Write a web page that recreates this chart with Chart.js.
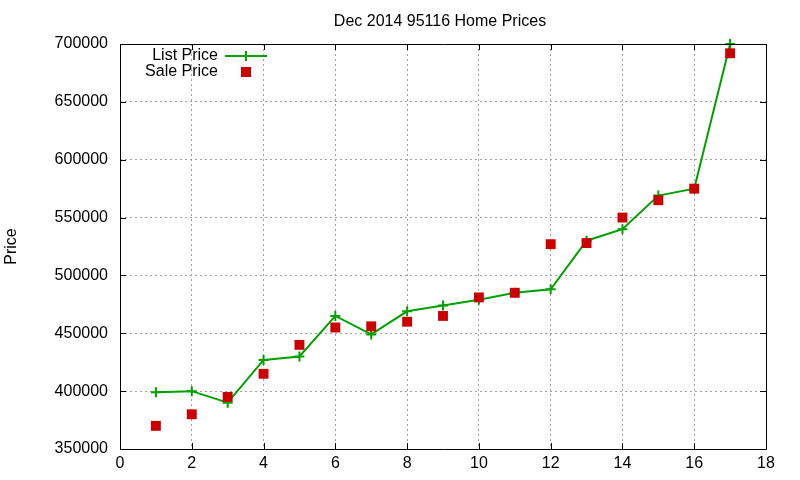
<!DOCTYPE html>
<html>
<head>
<meta charset="utf-8">
<script src="https://cdn.jsdelivr.net/npm/chart.js@4"></script>
<style>
html,body{margin:0;padding:0;background:#fff;}
#wrap{width:800px;height:480px;}
</style>
</head>
<body>
<div id="wrap"><canvas id="c" width="800" height="480"></canvas></div>
<script>
const titleText = 'Dec 2014 95116 Home Prices';
const yAxisTitle = 'Price';
const seriesNames = ['List Price', 'Sale Price'];
const months = [1,2,3,4,5,6,7,8,9,10,11,12,13,14,15,16,17];
const listPrice = [399000,400000,390000,427000,430000,465000,449000,469000,474000,479000,485000,488000,530000,540000,569000,575000,700000];
const salePrice = [370000,380000,395000,415000,440000,455000,456000,460000,465000,481000,485000,527000,528000,550000,565000,575000,692000];
const xRange = [0, 18, 2];
const yRange = [350000, 700000, 50000];

const FONT = '"Liberation Sans", Arial, Helvetica, sans-serif';
const GREEN = '#00a000';
const RED = '#cc0000';

const frame = {
  id: 'frame',
  afterDraw(chart) {
    const {ctx, chartArea: a, scales} = chart;
    ctx.save();
    ctx.strokeStyle = '#000';
    ctx.lineWidth = 1;
    ctx.beginPath();
    ctx.rect(Math.round(a.left)+0.5, Math.round(a.top)+0.5, Math.round(a.right-a.left), Math.round(a.bottom-a.top));
    ctx.stroke();
    const T = 6;
    ctx.beginPath();
    scales.x.ticks.forEach(t => {
      const x = Math.round(scales.x.getPixelForValue(t.value)) + 0.5;
      ctx.moveTo(x, a.bottom); ctx.lineTo(x, a.bottom - T);
      ctx.moveTo(x, a.top); ctx.lineTo(x, a.top + T);
    });
    scales.y.ticks.forEach(t => {
      const y = Math.round(scales.y.getPixelForValue(t.value)) + 0.5;
      ctx.moveTo(a.left, y); ctx.lineTo(a.left + T, y);
      ctx.moveTo(a.right, y); ctx.lineTo(a.right - T, y);
    });
    ctx.stroke();
    // title
    ctx.fillStyle = '#000';
    ctx.font = '16px ' + FONT;
    ctx.textAlign = 'center';
    ctx.textBaseline = 'middle';
    ctx.fillText(titleText, 440, 22);
    // legend
    ctx.textAlign = 'right';
    ctx.fillText(seriesNames[0], 218, 56);
    ctx.fillText(seriesNames[1], 218, 72);
    ctx.strokeStyle = GREEN;
    ctx.lineWidth = 2;
    ctx.beginPath();
    ctx.moveTo(225, 56); ctx.lineTo(267, 56);
    ctx.moveTo(246, 51); ctx.lineTo(246, 61);
    ctx.stroke();
    ctx.fillStyle = RED;
    ctx.fillRect(241, 67, 10, 10);
    ctx.restore();
  }
};

new Chart(document.getElementById('c'), {
  type: 'line',
  data: {
    datasets: [
      {
        label: seriesNames[1],
        data: months.map((m, i) => ({x: m, y: salePrice[i]})),
        showLine: false,
        pointStyle: 'rect',
        pointRadius: 7,
        pointBackgroundColor: RED,
        pointBorderColor: RED,
        pointBorderWidth: 0,
        order: 0,
        clip: false
      },
      {
        label: seriesNames[0],
        data: months.map((m, i) => ({x: m, y: listPrice[i]})),
        borderColor: GREEN,
        borderWidth: 2,
        pointStyle: 'cross',
        pointRadius: 5,
        pointBorderColor: GREEN,
        pointBorderWidth: 2,
        tension: 0,
        order: 1,
        clip: false
      }
    ]
  },
  options: {
    responsive: false,
    animation: false,
    devicePixelRatio: 1,
    layout: {padding: {left: 0, right: 34, top: 44, bottom: 0}},
    plugins: {legend: {display: false}, title: {display: false}, tooltip: {enabled: false}},
    scales: {
      x: {
        type: 'linear',
        min: xRange[0], max: xRange[1],
        ticks: {stepSize: xRange[2], color: '#000', font: {family: FONT, size: 16}, padding: 5, maxRotation: 0},
        grid: {color: '#a0a0a0', lineWidth: 1, drawTicks: false},
        border: {display: false, dash: [2, 3]},
        afterFit(s) { s.height = 31; }
      },
      y: {
        type: 'linear',
        min: yRange[0], max: yRange[1],
        ticks: {stepSize: yRange[2], color: '#000', font: {family: FONT, size: 16}, padding: 12, callback: v => String(v)},
        grid: {color: '#a0a0a0', lineWidth: 1, drawTicks: false},
        border: {display: false, dash: [2, 3]},
        title: {display: true, text: yAxisTitle, color: '#000', font: {family: FONT, size: 16}, padding: {top: 2, bottom: 0}},
        afterFit(s) { s.width = 120; }
      }
    }
  },
  plugins: [frame]
});
</script>
</body>
</html>
